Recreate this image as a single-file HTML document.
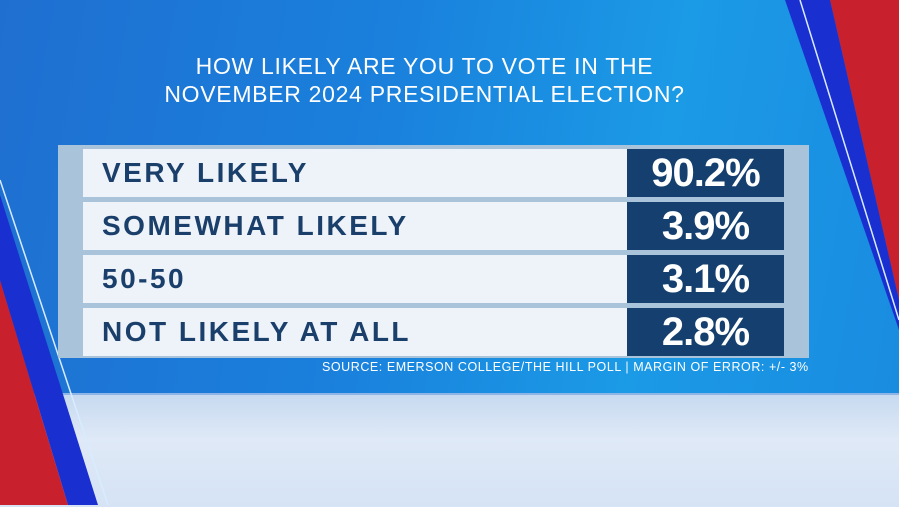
<!DOCTYPE html>
<html><head><meta charset="utf-8"><style>
body{margin:0;width:899px;height:505px;overflow:hidden;font-family:"Liberation Sans",sans-serif;}
#bg{position:absolute;left:0;top:0;width:899px;height:505px;background:linear-gradient(100deg,#1f6fd0 0%,#1a80dc 40%,#1b9ae6 70%,#1a8be0 100%);}
#bottom{position:absolute;left:0;top:393px;width:899px;height:112px;background:linear-gradient(180deg,#c7daf0,#dfe9f7 40%,#d5e3f5);border-top:2px solid #8fb5e6;}
.t{position:absolute;color:#fff;font-size:23px;letter-spacing:0.7px;width:899px;left:-25px;text-align:center;}
.panel{position:absolute;left:58px;top:145px;width:751px;height:213px;background:#a9c3db;}
.row{position:absolute;left:83px;width:544px;height:48px;background:#eef3fa;color:#1b3f6b;font-weight:bold;font-size:28px;line-height:48px;padding-left:19px;box-sizing:border-box;letter-spacing:2.5px;}
.num{position:absolute;left:627px;width:157px;height:48px;background:#143f6e;color:#fff;font-weight:bold;font-size:40px;line-height:48px;text-align:center;letter-spacing:-1px;}
.src{position:absolute;left:322px;top:360px;color:#fff;font-size:12.5px;letter-spacing:0.55px;white-space:nowrap;}
</style></head><body>
<div id="bg"></div>
<div id="bottom"></div>
<svg width="899" height="505" style="position:absolute;left:0;top:0">
<polygon points="0,280 0,505 68,505" fill="#c8202c"/>
<polygon points="0,195 0,280 68,505 98,505" fill="#1a2fd0"/>
<line x1="0" y1="180" x2="108" y2="505" stroke="#d8ecff" stroke-width="1.5"/>
<polygon points="830,0 899,0 899,300" fill="#c8202c"/>
<polygon points="785,0 830,0 899,300 899,330" fill="#1a2fd0"/>
<line x1="800" y1="0" x2="899" y2="320" stroke="#d8ecff" stroke-width="1.5"/>
</svg>
<div class="t" style="top:53px">HOW LIKELY ARE YOU TO VOTE IN THE</div>
<div class="t" style="top:81px">NOVEMBER 2024 PRESIDENTIAL ELECTION?</div>
<div class="panel"></div>
<div class="row" style="top:149px">VERY LIKELY</div><div class="num" style="top:149px">90.2%</div>
<div class="row" style="top:202px">SOMEWHAT LIKELY</div><div class="num" style="top:202px">3.9%</div>
<div class="row" style="top:255px">50-50</div><div class="num" style="top:255px">3.1%</div>
<div class="row" style="top:308px">NOT LIKELY AT ALL</div><div class="num" style="top:308px">2.8%</div>
<div class="src">SOURCE: EMERSON COLLEGE/THE HILL POLL | MARGIN OF ERROR: +/- 3%</div>
</body></html>
